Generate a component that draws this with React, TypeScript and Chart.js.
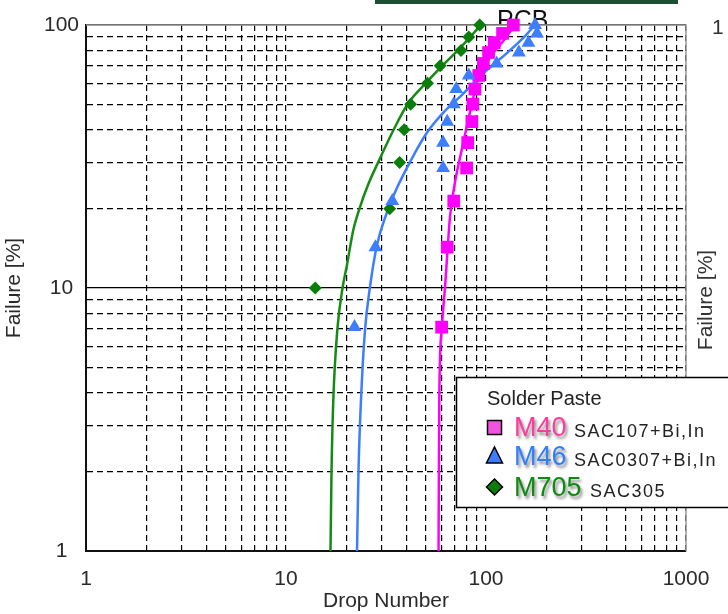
import React, { useEffect, useRef } from 'react';
import { Chart, registerables } from 'chart.js';

Chart.register(...registerables);

const FONT = '"Liberation Sans", Arial, sans-serif';

const xTickValues = [1, 2, 3, 4, 5, 6, 7, 8, 9, 10, 20, 30, 40, 50, 60, 70, 80, 90, 100, 200, 300, 400, 500, 600, 700, 800, 900, 1000];
const yTickValues = [1, 2, 3, 4, 5, 6, 7, 8, 9, 10, 20, 30, 40, 50, 60, 70, 80, 90, 100];
const xTickLabels = ['1', '10', '100', '1000'];
const yTickLabels = ['1', '10', '100'];

const failure14 = [7.1, 14.3, 21.4, 28.6, 35.7, 42.9, 50, 57.1, 64.3, 71.4, 78.6, 85.7, 92.9, 100];
const failure10 = [10, 20, 30, 40, 50, 60, 70, 80, 90, 100];

const m40Drops = [60, 64, 69, 80, 81, 85, 86, 88, 92, 97, 103, 110, 121, 137];
const m46Drops = [22, 28, 34, 61, 61, 64, 69, 71, 82, 113, 146, 163, 180, 176];
const m705Drops = [14, 33, 37, 39, 42, 51, 59, 75, 82, 93];

const m40FitDrops = [57.9, 58.4, 60.0, 62.4, 66.1, 70.0, 75.6, 83.2, 91.5, 106.8, 124.5, 139.6];
const m40FitFailure = [1, 3.75, 6.9, 10.1, 18.7, 25.3, 33.5, 46.7, 62.5, 76.7, 88.7, 100];
const m46FitDrops = [22.65, 23.04, 23.71, 24.83, 26.3, 28.51, 31.62, 35.48, 41.69, 50.12, 61.66, 75.86, 98.86, 128.8, 156.7, 175.8];
const m46FitFailure = [1, 2.01, 3.75, 6.92, 10.09, 14.57, 18.95, 23.59, 30.13, 38.5, 46.7, 54.2, 66.3, 78.9, 90.8, 100];
const m705FitDrops = [16.69, 16.89, 17.24, 18.05, 19.21, 20.18, 21.7, 23.44, 25.7, 28.93, 35.08, 40.88, 48.42, 58.88, 74.13, 84.14, 94.41];
const m705FitFailure = [1, 2.01, 3.75, 6.92, 10.09, 12.24, 16.61, 20.32, 24.64, 30.13, 40.95, 50.5, 58.6, 68.6, 81.7, 90.8, 100];

const legendTitle = 'Solder Paste';
const legendNames = ['M40', 'M46', 'M705'];
const legendAlloys = ['SAC107+Bi,In', 'SAC0307+Bi,In', 'SAC305'];

const MAGENTA = '#ff00ff';
const BLUE = '#3d7dff';
const GREEN = '#0b7d0b';
const GREEN_LINE = '#148c14';

const zip = (xs: number[], ys: number[]) => xs.map((x, i) => ({ x, y: ys[i] }));
const isDecade = (v: number) => Math.abs(Math.log10(v) - Math.round(Math.log10(v))) < 1e-9;

const decor = {
  id: 'decor',
  beforeDraw(chart: any) {
    const ctx = chart.ctx;
    ctx.save();
    ctx.fillStyle = '#ffffff';
    ctx.fillRect(0, 0, chart.width, chart.height);
    ctx.fillStyle = '#1f4f33';
    ctx.fillRect(375, 0, 303, 4);
    // PCB heading, cut by the plot frame
    ctx.save();
    ctx.beginPath();
    ctx.rect(480, 0, 120, 25);
    ctx.clip();
    ctx.fillStyle = '#111';
    ctx.font = `25px ${FONT}`;
    ctx.textBaseline = 'alphabetic';
    ctx.textAlign = 'left';
    ctx.fillText('PCB', 497, 28);
    ctx.restore();
    ctx.fillStyle = '#333';
    ctx.font = `21px ${FONT}`;
    ctx.textBaseline = 'middle';
    ctx.textAlign = 'left';
    ctx.fillText('1', 712, 28);
    ctx.save();
    ctx.translate(706, 300);
    ctx.rotate(-Math.PI / 2);
    ctx.textAlign = 'center';
    ctx.fillText('Failure [%]', 0, 0);
    ctx.restore();
    ctx.restore();
  },
  beforeDatasetsDraw(chart: any) {
    const { ctx, chartArea: a } = chart;
    ctx.save();
    ctx.strokeStyle = '#9a9a9a';
    ctx.lineWidth = 1.5;
    ctx.beginPath();
    ctx.moveTo(a.left, a.top);
    ctx.lineTo(a.right, a.top);
    ctx.lineTo(a.right, a.bottom);
    ctx.stroke();
    ctx.restore();
  },
  afterDraw(chart: any) {
    const ctx = chart.ctx;
    ctx.save();
    ctx.fillStyle = '#fff';
    ctx.fillRect(456, 377, 290, 130);
    ctx.strokeStyle = '#000';
    ctx.lineWidth = 1.5;
    ctx.strokeRect(456.5, 377.5, 290, 130);

    ctx.fillStyle = '#222';
    ctx.font = `20px ${FONT}`;
    ctx.textBaseline = 'alphabetic';
    ctx.textAlign = 'left';
    ctx.fillText(legendTitle, 487, 405);

    const rows = [436, 465, 496];
    const colors = ['#ff3aa0', '#2f7fff', '#118a11'];
    ctx.lineWidth = 1.5;
    ctx.strokeStyle = '#000';
    ctx.fillStyle = '#f055e0';
    ctx.fillRect(487.5, 420.5, 14, 14);
    ctx.strokeRect(487.5, 420.5, 14, 14);
    ctx.fillStyle = BLUE;
    ctx.beginPath();
    ctx.moveTo(494.5, 447);
    ctx.lineTo(502.5, 463);
    ctx.lineTo(486.5, 463);
    ctx.closePath();
    ctx.fill();
    ctx.stroke();
    ctx.fillStyle = GREEN;
    ctx.beginPath();
    ctx.moveTo(494.5, 479);
    ctx.lineTo(502.5, 487);
    ctx.lineTo(494.5, 495);
    ctx.lineTo(486.5, 487);
    ctx.closePath();
    ctx.fill();
    ctx.stroke();

    const alloyX = [574, 574, 590];
    for (let i = 0; i < 3; i++) {
      ctx.save();
      ctx.shadowColor = 'rgba(0,0,0,0.45)';
      ctx.shadowBlur = 3;
      ctx.shadowOffsetX = 2;
      ctx.shadowOffsetY = 3;
      ctx.fillStyle = colors[i];
      ctx.font = `27px ${FONT}`;
      ctx.fillText(legendNames[i], 514, rows[i]);
      ctx.restore();
      ctx.save();
      ctx.fillStyle = '#222';
      ctx.font = `18px ${FONT}`;
      (ctx as any).letterSpacing = '1.5px';
      ctx.fillText(legendAlloys[i], alloyX[i], rows[i] + 1);
      ctx.restore();
    }
    ctx.restore();
  },
};

export default function App() {
  const ref = useRef<HTMLCanvasElement | null>(null);
  useEffect(() => {
    document.body.style.margin = '0';
    const canvas = ref.current!;
    const fitLine = (label: string, xs: number[], ys: number[], color: string) => ({
      label, data: zip(xs, ys), showLine: true, pointRadius: 0,
      borderColor: color, borderWidth: 2.5, cubicInterpolationMode: 'monotone', clip: false,
    });
    const chart = new Chart(canvas, {
      type: 'scatter',
      data: {
        datasets: [
          {
            label: 'M46', data: zip(m46Drops, failure14), pointStyle: 'triangle', pointRadius: 8,
            backgroundColor: BLUE, borderWidth: 0, showLine: false, clip: false,
          },
          {
            label: 'M40', data: zip(m40Drops, failure14), pointStyle: 'rect', pointRadius: 9,
            backgroundColor: MAGENTA, borderWidth: 0, showLine: false, clip: false,
          },
          {
            label: 'M705', data: zip(m705Drops, failure10), pointStyle: 'rectRot', pointRadius: 6.5,
            backgroundColor: GREEN, borderWidth: 0, showLine: false, clip: false,
          },
          fitLine('M46 fit', m46FitDrops, m46FitFailure, BLUE),
          fitLine('M40 fit', m40FitDrops, m40FitFailure, MAGENTA),
          fitLine('M705 fit', m705FitDrops, m705FitFailure, GREEN_LINE),
        ],
      } as any,
      options: {
        responsive: false,
        animation: false,
        events: [],
        layout: { padding: { top: 25, right: 42, left: 0, bottom: 0 } },
        plugins: { legend: { display: false }, tooltip: { enabled: false } },
        scales: {
          x: {
            type: 'logarithmic', min: 1, max: 1000, position: 'bottom',
            afterBuildTicks: (s: any) => { s.ticks = xTickValues.map((v) => ({ value: v })); },
            afterFit: (s: any) => { s.height = 63; },
            ticks: {
              autoSkip: false, maxRotation: 0, minRotation: 0, padding: 16, color: '#2a2a2a',
              font: { family: FONT, size: 21 },
              callback: (v: any) => (xTickLabels.includes(String(v)) ? String(v) : ''),
            },
            grid: { color: '#000', lineWidth: 1.2, drawTicks: false },
            border: { color: '#111', width: 2, dash: [6, 4] },
            title: { display: true, text: 'Drop Number', color: '#2a2a2a', font: { family: FONT, size: 21 }, padding: { top: 0, bottom: 0 } },
          },
          y: {
            type: 'logarithmic', min: 1, max: 100, position: 'left',
            afterBuildTicks: (s: any) => { s.ticks = yTickValues.map((v) => ({ value: v })); },
            afterFit: (s: any) => { s.width = 86; },
            ticks: {
              autoSkip: false, padding: 7, crossAlign: 'center', color: '#2a2a2a',
              font: { family: FONT, size: 21 },
              callback: (v: any) => (yTickLabels.includes(String(v)) ? String(v) : ''),
            },
            grid: { color: '#000', lineWidth: 1.2, drawTicks: false },
            border: {
              color: '#111', width: 2,
              dash: (c: any) => (c.tick && isDecade(c.tick.value) ? [] : [6, 4]),
            },
            title: { display: true, text: 'Failure [%]', color: '#2a2a2a', font: { family: FONT, size: 21 }, padding: { top: 2, bottom: 0 } },
          },
        },
      } as any,
      plugins: [decor],
    });
    return () => chart.destroy();
  }, []);
  return <canvas ref={ref} width={728} height={614} style={{ display: 'block', width: 728, height: 614 }} />;
}
